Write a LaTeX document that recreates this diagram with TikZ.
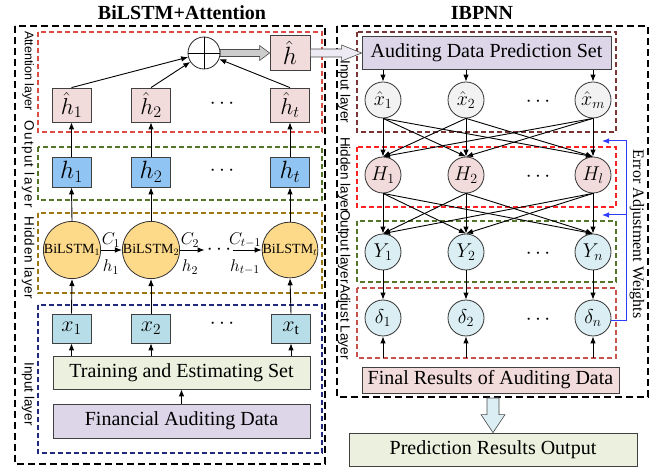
\RequirePackage{fix-cm}
\documentclass[tikz,border=0pt]{standalone}
\usepackage{fontspec}
\setmainfont{Liberation Serif}
\setsansfont{Liberation Sans}
\usetikzlibrary{arrows.meta,calc}

\newcommand\pxsize[1]{\fontsize{#1}{#1}\selectfont}

\definecolor{attred}{HTML}{E04A44}
\definecolor{outgreen}{HTML}{55752A}
\definecolor{hidgold}{HTML}{9C7A10}
\definecolor{innavy}{HTML}{1F2A80}
\definecolor{inmaroon}{HTML}{7B3434}
\definecolor{hidred}{HTML}{FF2222}
\definecolor{adjred}{HTML}{C8504D}
\definecolor{pinkfill}{HTML}{F2DCDB}
\definecolor{bluefill}{HTML}{90C4F2}
\definecolor{cyanfill}{HTML}{B7DEE8}
\definecolor{paleblue}{HTML}{DAEEF3}
\definecolor{yellowfill}{HTML}{FDD98A}
\definecolor{lavender}{HTML}{DCD6E8}
\definecolor{palegreen}{HTML}{EBF1DE}
\definecolor{fbblue}{HTML}{2F3BFF}

\begin{document}
\begin{tikzpicture}[x=1pt,y=-1pt,
  arr/.style={-{Latex[length=7pt,width=5.5pt]}, line width=0.9pt},
  sqbox/.style={draw=black!75, line width=0.8pt, minimum width=39pt, inner sep=0pt},
  widebox/.style={draw=black!75, line width=0.8pt, inner sep=0pt, font=\pxsize{20}},
  ncirc/.style={circle, draw=black!80, line width=0.8pt, minimum size=36pt, inner sep=0pt, font=\pxsize{20}},
  lstm/.style={circle, draw=black!80, line width=0.8pt, minimum size=54pt, inner sep=0pt, fill=yellowfill, font=\pxsize{14}},
  outerdash/.style={draw=black, line width=1.8pt, dash pattern=on 7pt off 4pt},
  layerdash/.style={line width=1.2pt, dash pattern=on 5pt off 3pt},
  lbl/.style={font=\sffamily\pxsize{13.5}, rotate=-90, inner sep=0pt},
  lblr/.style={font=\sffamily\pxsize{13.5}, rotate=-90, inner sep=0pt},
  dots/.style={font=\pxsize{21}, inner sep=2pt},
  edgelbl/.style={font=\pxsize{17}, inner sep=0pt},
]
\useasboundingbox (0,0) rectangle (657,470);

% ---------------- titles ----------------
\node[font=\bfseries\pxsize{20}] (t1) at (182,13) {BiLSTM+Attention};
\node[font=\bfseries\pxsize{20}] (t2) at (482,13) {IBPNN};

% ---------------- BiLSTM+Attention frame and layers ----------------
\draw[outerdash] (15,26) rectangle (325,464);
\draw[layerdash, draw=attred]   (38,32)  rectangle (322,132);
\draw[layerdash, draw=outgreen] (38,147) rectangle (322,200);
\draw[layerdash, draw=hidgold]  (38,213) rectangle (322,293);
\draw[layerdash, draw=innavy]   (38,305) rectangle (322,453);

\node[lbl, font=\sffamily\pxsize{12.5}] (la1) at (28,71)  {Attention layer};
\node[lbl] (la2) at (28,164) {\addfontfeature{LetterSpace=10}Output layer};
\node[lbl] (la3) at (28,258) {\addfontfeature{LetterSpace=5}Hidden layer};
\node[lbl] (la4) at (28,394) {Input layer};

% attention layer
\node[sqbox, fill=pinkfill, minimum height=34pt, font=\pxsize{23}] (hh1) at (71.5,105) {$\hat{h}_1$};
\node[sqbox, fill=pinkfill, minimum height=34pt, font=\pxsize{23}] (hh2) at (151,105) {$\hat{h}_2$};
\node[sqbox, fill=pinkfill, minimum height=34pt, font=\pxsize{23}] (hht) at (290,105) {$\hat{h}_t$};
\node[dots] (dA) at (222,104) {$\cdots$};
\node[sqbox, fill=pinkfill, minimum width=40pt, minimum height=35pt, font=\pxsize{25}] (hhat) at (290,53) {$\hat{h}$};
\node[circle, draw=black!85, line width=0.8pt, fill=white, minimum size=32pt, inner sep=0pt] (plus) at (204,53) {};
\draw[line width=0.8pt] (plus.north) -- (plus.south) (plus.west) -- (plus.east);

% output layer
\node[sqbox, fill=bluefill, minimum height=30pt, font=\pxsize{25}] (h1) at (71.5,172) {$h_1$};
\node[sqbox, fill=bluefill, minimum height=30pt, font=\pxsize{25}] (h2) at (151,172) {$h_2$};
\node[sqbox, fill=bluefill, minimum height=30pt, font=\pxsize{25}] (ht) at (290,172) {$h_t$};
\node[dots] (dO) at (222,171) {$\cdots$};

% hidden layer
\node[lstm] (b1) at (72,250)  {BiLSTM$_1$};
\node[lstm] (b2) at (151,250) {BiLSTM$_2$};
\node[lstm] (bt) at (290,250) {BiLSTM$_t$};
\node[dots] (dH) at (219,250) {$\cdots$};

% input layer
\node[sqbox, fill=cyanfill, minimum height=29pt, font=\pxsize{22}] (x1) at (71.5,328.5) {$x_1$};
\node[sqbox, fill=cyanfill, minimum height=29pt, font=\pxsize{22}] (x2) at (151,328.5) {$x_2$};
\node[sqbox, fill=cyanfill, minimum height=29pt, font=\pxsize{22}] (xt) at (291,328.5) {$x_{\mathrm{t}}$};
\node[dots] (dI) at (222,324) {$\cdots$};
\node[widebox, fill=palegreen, minimum width=257pt, minimum height=33pt] (train) at (181.5,372.5) {Training and Estimating Set};
\node[widebox, fill=lavender, minimum width=257pt, minimum height=34pt] (fin) at (181.5,421) {Financial Auditing Data};

% connectors, left part
\draw[arr] (fin.north) -- (train.south);
\foreach \x in {x1,x2,xt} {
  \draw[arr] (train.north -| \x) -- (\x.south);
}
\draw[arr] (x1.north) -- (b1.south);
\draw[arr] (x2.north) -- (b2.south);
\draw[arr] (xt.north) -- (bt.south);
\draw[arr] (b1.north) -- (h1.south);
\draw[arr] (b2.north) -- (h2.south);
\draw[arr] (bt.north) -- (ht.south);
\draw[arr] (h1.north) -- (hh1.south);
\draw[arr] (h2.north) -- (hh2.south);
\draw[arr] (ht.north) -- (hht.south);
\draw[arr] (hh1.north) -- (plus);
\draw[arr] (hh2.north) -- (plus);
\draw[arr] (hht.north) -- (plus);

\draw[arr] (b1) -- (b2);
\draw[arr] (b2) -- (dH);
\draw[arr] (dH) -- (bt);
\node[edgelbl] (c1) at (111,240) {$C_1$};
\node[edgelbl] (s1) at (111,267) {$h_1$};
\node[edgelbl] (c2) at (190,240) {$C_2$};
\node[edgelbl] (s2) at (190,267) {$h_2$};
\node[edgelbl] (c3) at (245,240) {$C_{t-1}$};
\node[edgelbl] (s3) at (245,267) {$h_{t-1}$};

% block arrow from the sum to the attention output
\draw[fill=black!20, draw=black!70, line width=0.6pt]
  ($(plus.east)+(0,-3.5)$) -- ($(hhat.west)+(-10,-3.5)$) -- ($(hhat.west)+(-10,-7.5)$)
  -- (hhat.west) -- ($(hhat.west)+(-10,7.5)$) -- ($(hhat.west)+(-10,3.5)$)
  -- ($(plus.east)+(0,3.5)$) -- cycle;

% ---------------- IBPNN frame and layers ----------------
\draw[outerdash] (337,26) rectangle (648,397);
\draw[layerdash, draw=inmaroon] (357,32)  rectangle (616,132);
\draw[layerdash, draw=hidred]   (357,147) rectangle (616,207);
\draw[layerdash, draw=outgreen] (357,221) rectangle (616,282);
\draw[layerdash, draw=adjred]   (357,288) rectangle (616,358);
\coordinate (adjB) at (486,358);

\node[lblr] (lb1) at (344,92)  {Input layer};
\node[lblr] (lb2) at (344,175) {Hidden layer};
\node[lblr] (lb3) at (344,247) {Output layer};
\node[lblr] (lb4) at (344,322) {Adjust Layer};

\node[widebox, fill=lavender, minimum width=249pt, minimum height=33pt] (adps) at (486.5,53) {Auditing Data Prediction Set};

\node[ncirc, fill=black!5] (xh1) at (383,100) {$\hat{x}_1$};
\node[ncirc, fill=black!5] (xh2) at (466,100) {$\hat{x}_2$};
\node[ncirc, fill=black!5] (xhm) at (593,100) {$\hat{x}_m$};
\node[dots] (dr1) at (538,102) {$\cdots$};

\node[ncirc, fill=pinkfill] (H1) at (383,175) {$H_1$};
\node[ncirc, fill=pinkfill] (H2) at (466,175) {$H_2$};
\node[ncirc, fill=pinkfill] (Hl) at (593,175) {$H_l$};
\node[dots] (dr2) at (538,177) {$\cdots$};

\node[ncirc, fill=paleblue] (Y1) at (383,252) {$Y_1$};
\node[ncirc, fill=paleblue] (Y2) at (466,252) {$Y_2$};
\node[ncirc, fill=paleblue] (Yn) at (593,252) {$Y_n$};
\node[dots] (dr3) at (538,254) {$\cdots$};

\node[ncirc, fill=paleblue] (d1) at (383,318) {$\delta_1$};
\node[ncirc, fill=paleblue] (d2) at (466,318) {$\delta_2$};
\node[ncirc, fill=paleblue] (dn) at (593,318) {$\delta_n$};
\node[dots] (dr4) at (538,320) {$\cdots$};

\node[widebox, fill=pinkfill, minimum width=257pt, minimum height=26pt] (final) at (490.5,380) {Final Results of Auditing Data};
\node[widebox, fill=palegreen, minimum width=288pt, minimum height=33pt] (pred) at (493,449.5) {Prediction Results Output};

% connectors, right part
\foreach \c in {xh1,xh2,xhm} {
  \draw[arr] (adps.south -| \c) -- (\c.north);
}
\foreach \a in {xh1,xh2,xhm} {
  \foreach \b in {H1,H2,Hl} {
    \draw[arr] (\a.south) -- (\b.north);
  }
}
\foreach \a in {H1,H2,Hl} {
  \foreach \b in {Y1,Y2,Yn} {
    \draw[arr] (\a.south) -- (\b.north);
  }
}
\draw[arr] (Y1.south) -- (d1.north);
\draw[arr] (Y2.south) -- (d2.north);
\draw[arr] (Yn.south) -- (dn.north);
\draw[arr] (adjB -| d1) -- (d1.south);
\draw[arr] (adjB -| d2) -- (d2.south);
\draw[arr] (adjB -| dn) -- (dn.south);

% error feedback
\coordinate (fbTop) at (626,141);
\coordinate (fbMid) at (626,215);
\coordinate (tipTop) at (602,141);
\coordinate (tipMid) at (602,215);
\draw[draw=fbblue, line width=1pt, -{Latex[length=7pt,width=5.5pt]}]
  ($(dn.east)+(0,3)$) -| (fbTop) -- (tipTop);
\draw[draw=fbblue, line width=1pt, -{Latex[length=7pt,width=5.5pt]}] (fbMid) -- (tipMid);
\node[font=\pxsize{16}, rotate=-90, inner sep=0pt] (ew) at (637,234) {Error Adjustment Weights};

% block arrow into the prediction set
\draw[fill=lavender!50, draw=black!70, line width=0.6pt]
  ($(hhat.east)+(0,-4)$) -- ($(adps.west |- hhat.east)+(-20,-4)$) -- ($(adps.west |- hhat.east)+(-20,-8)$)
  -- (adps.west |- hhat.east) -- ($(adps.west |- hhat.east)+(-20,8)$) -- ($(adps.west |- hhat.east)+(-20,4)$)
  -- ($(hhat.east)+(0,4)$) -- cycle;

% block arrow down to the output
\coordinate (dstart) at (493,398);
\draw[fill=paleblue, draw=black!70, line width=0.6pt]
  ($(dstart)+(-6,0)$) -- ($(pred.north)+(-6,-18)$) -- ($(pred.north)+(-12,-18)$)
  -- (pred.north) -- ($(pred.north)+(12,-18)$) -- ($(pred.north)+(6,-18)$)
  -- ($(dstart)+(6,0)$) -- cycle;
\end{tikzpicture}
\end{document}
